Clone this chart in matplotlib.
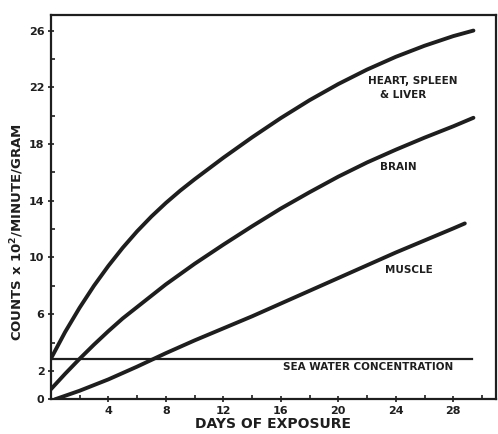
import matplotlib
matplotlib.use("Agg")
import matplotlib.pyplot as plt

# Data
heart_days = [0, 1, 2, 3, 4, 5, 6, 7, 8, 9, 10, 12, 14, 16, 18, 20, 22, 24, 26, 28, 29.4]
heart_vals = [2.85, 4.75, 6.45, 8.0, 9.4, 10.68, 11.84, 12.89, 13.84, 14.71, 15.51, 17.03, 18.47, 19.83, 21.09, 22.23, 23.25, 24.15, 24.93, 25.61, 26.0]

brain_days = [0, 1, 2, 3, 4, 5, 6, 8, 10, 12, 14, 16, 18, 20, 22, 24, 26, 28, 29.4]
brain_vals = [0.7, 1.8, 2.85, 3.85, 4.8, 5.7, 6.5, 8.1, 9.55, 10.9, 12.2, 13.45, 14.6, 15.7, 16.7, 17.6, 18.45, 19.25, 19.85]

muscle_days = [0.3, 2, 4, 6, 8, 10, 12, 14, 16, 18, 20, 22, 24, 26, 28, 28.8]
muscle_vals = [0.0, 0.6, 1.4, 2.3, 3.25, 4.15, 5.0, 5.85, 6.75, 7.65, 8.55, 9.45, 10.35, 11.2, 12.05, 12.4]

sea_days = [0, 29.3]
sea_vals = [2.85, 2.85]

x_major = [4, 8, 12, 16, 20, 24, 28]
x_minor = [2, 6, 10, 14, 18, 22, 26, 30]
y_major = [0, 2, 6, 10, 14, 18, 22, 26]
y_minor = [4, 8, 12, 16, 20, 24]

fig = plt.figure(figsize=(4.98, 4.34), dpi=100)
ax = fig.add_axes([0.102, 0.080, 0.894, 0.8855])

lc = "#1e1e1e"
ax.plot(heart_days, heart_vals, color=lc, lw=2.8, solid_capstyle="round", solid_joinstyle="round")
ax.plot(brain_days, brain_vals, color=lc, lw=2.8, solid_capstyle="round", solid_joinstyle="round")
ax.plot(muscle_days, muscle_vals, color=lc, lw=2.8, solid_capstyle="round", solid_joinstyle="round")
ax.plot(sea_days, sea_vals, color=lc, lw=1.6)

ax.set_xlim(0, 30.97)
ax.set_ylim(0, 27.1)

ax.set_xticks(x_major)
ax.set_xticks(x_minor, minor=True)
ax.set_yticks(y_major)
ax.set_yticks(y_minor, minor=True)
ax.set_xticklabels([str(v) for v in x_major], fontsize=8, fontweight="bold", color=lc)
ax.set_yticklabels([str(v) for v in y_major], fontsize=8, fontweight="bold", color=lc)
ax.tick_params(axis="both", which="major", direction="inout", length=5, width=1.2, color=lc, pad=2)
ax.tick_params(axis="both", which="minor", direction="in", length=3, width=1.2, color=lc)

for s in ax.spines.values():
    s.set_linewidth(1.6)
    s.set_color(lc)

ax.set_xlabel("DAYS OF EXPOSURE", fontsize=10, fontweight="bold", color=lc, labelpad=1)
ax.set_ylabel("COUNTS x 10$^{\\mathbf{2}}$/MINUTE/GRAM", fontsize=9.5, fontweight="bold", color=lc)
ax.yaxis.set_label_coords(-0.056, 0.435)

fs = 7.5
ax.text(22.1, 22.45, "HEART, SPLEEN", fontsize=fs, fontweight="bold", color=lc, ha="left", va="center")
ax.text(22.9, 21.45, "& LIVER", fontsize=fs, fontweight="bold", color=lc, ha="left", va="center")
ax.text(24.2, 16.4, "BRAIN", fontsize=fs, fontweight="bold", color=lc, ha="center", va="center")
ax.text(24.9, 9.1, "MUSCLE", fontsize=fs, fontweight="bold", color=lc, ha="center", va="center")
ax.text(22.1, 2.28, "SEA WATER CONCENTRATION", fontsize=fs, fontweight="bold", color=lc, ha="center", va="center")

fig.savefig("out.png", dpi=100)
